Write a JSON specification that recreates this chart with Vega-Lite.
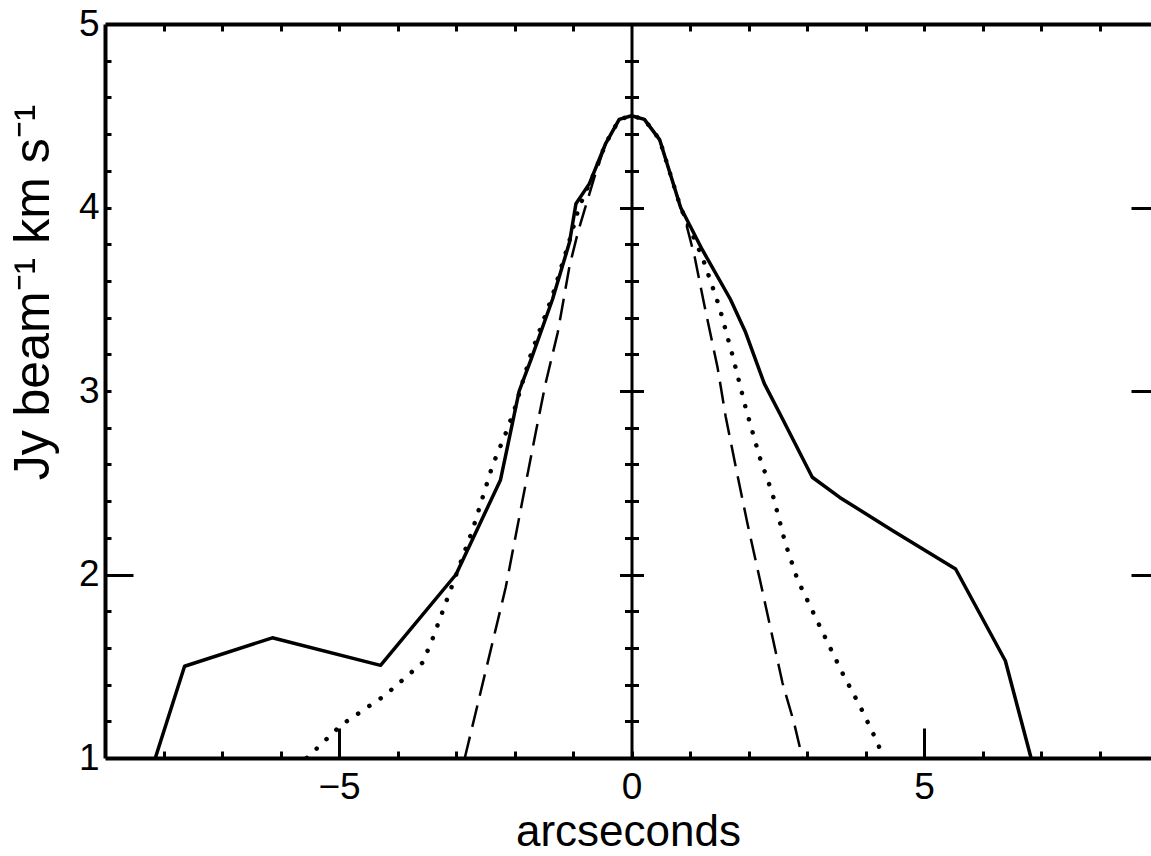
{
  "$schema": "https://vega.github.io/schema/vega-lite/v6.json",
  "width": 1046,
  "height": 734,
  "autosize": {"type": "none"},
  "padding": {"left": 105, "top": 24, "right": 0, "bottom": 98},
  "background": "white",
  "config": {
    "view": {"stroke": null},
    "axis": {
      "grid": false,
      "labelFont": "Liberation Sans",
      "titleFont": "Liberation Sans",
      "labelColor": "black",
      "titleColor": "black",
      "domainColor": "black",
      "tickColor": "black",
      "labelFlush": false,
      "labelOverlap": false
    }
  },
  "data": {
    "values": [
      {"s": "obs", "x": -8.14, "y": 1.0},
      {"s": "obs", "x": -7.64, "y": 1.5},
      {"s": "obs", "x": -6.14, "y": 1.655},
      {"s": "obs", "x": -4.29, "y": 1.505},
      {"s": "obs", "x": -3.0, "y": 2.0},
      {"s": "obs", "x": -2.24, "y": 2.515},
      {"s": "obs", "x": -1.92, "y": 3.0},
      {"s": "obs", "x": -1.72, "y": 3.17},
      {"s": "obs", "x": -1.35, "y": 3.5},
      {"s": "obs", "x": -1.06, "y": 3.81},
      {"s": "obs", "x": -0.95, "y": 4.02},
      {"s": "obs", "x": -0.72, "y": 4.13},
      {"s": "obs", "x": -0.44, "y": 4.35},
      {"s": "obs", "x": -0.21, "y": 4.48},
      {"s": "obs", "x": 0.0, "y": 4.5},
      {"s": "obs", "x": 0.22, "y": 4.48},
      {"s": "obs", "x": 0.48, "y": 4.37},
      {"s": "obs", "x": 0.84, "y": 4.0},
      {"s": "obs", "x": 1.21, "y": 3.77},
      {"s": "obs", "x": 1.69, "y": 3.5},
      {"s": "obs", "x": 1.95, "y": 3.32},
      {"s": "obs", "x": 2.27, "y": 3.04},
      {"s": "obs", "x": 2.53, "y": 2.88},
      {"s": "obs", "x": 3.09, "y": 2.53},
      {"s": "obs", "x": 3.56, "y": 2.42},
      {"s": "obs", "x": 4.46, "y": 2.24},
      {"s": "obs", "x": 5.54, "y": 2.03},
      {"s": "obs", "x": 6.39, "y": 1.53},
      {"s": "obs", "x": 6.83, "y": 1.0},

      {"s": "dash", "x": -2.85, "y": 1.0},
      {"s": "dash", "x": -2.24, "y": 1.81},
      {"s": "dash", "x": -2.15, "y": 1.93},
      {"s": "dash", "x": -1.86, "y": 2.41},
      {"s": "dash", "x": -1.64, "y": 2.77},
      {"s": "dash", "x": -1.47, "y": 3.04},
      {"s": "dash", "x": -1.26, "y": 3.32},
      {"s": "dash", "x": -1.06, "y": 3.68},
      {"s": "dash", "x": -0.92, "y": 3.86},
      {"s": "dash", "x": -0.8, "y": 3.99},
      {"s": "dash", "x": -0.62, "y": 4.18},
      {"s": "dash", "x": -0.44, "y": 4.35},
      {"s": "dash", "x": -0.21, "y": 4.48},
      {"s": "dash", "x": 0.0, "y": 4.5},
      {"s": "dash", "x": 0.22, "y": 4.48},
      {"s": "dash", "x": 0.48, "y": 4.37},
      {"s": "dash", "x": 0.84, "y": 4.0},
      {"s": "dash", "x": 0.92, "y": 3.93},
      {"s": "dash", "x": 1.08, "y": 3.73},
      {"s": "dash", "x": 1.25, "y": 3.46},
      {"s": "dash", "x": 1.47, "y": 3.13},
      {"s": "dash", "x": 1.61, "y": 2.86},
      {"s": "dash", "x": 1.78, "y": 2.59},
      {"s": "dash", "x": 1.98, "y": 2.28},
      {"s": "dash", "x": 2.21, "y": 1.95},
      {"s": "dash", "x": 2.58, "y": 1.41},
      {"s": "dash", "x": 2.78, "y": 1.19},
      {"s": "dash", "x": 2.92, "y": 1.0},

      {"s": "dot", "x": -5.55, "y": 1.0},
      {"s": "dot", "x": -4.96, "y": 1.18},
      {"s": "dot", "x": -4.22, "y": 1.34},
      {"s": "dot", "x": -3.57, "y": 1.52},
      {"s": "dot", "x": -3.4, "y": 1.65},
      {"s": "dot", "x": -3.17, "y": 1.85},
      {"s": "dot", "x": -2.72, "y": 2.24},
      {"s": "dot", "x": -2.38, "y": 2.59},
      {"s": "dot", "x": -2.15, "y": 2.77},
      {"s": "dot", "x": -2.0, "y": 2.9},
      {"s": "dot", "x": -1.72, "y": 3.2},
      {"s": "dot", "x": -1.35, "y": 3.52},
      {"s": "dot", "x": -1.06, "y": 3.82},
      {"s": "dot", "x": -0.9, "y": 4.0},
      {"s": "dot", "x": -0.62, "y": 4.2},
      {"s": "dot", "x": -0.44, "y": 4.35},
      {"s": "dot", "x": -0.21, "y": 4.48},
      {"s": "dot", "x": 0.0, "y": 4.5},
      {"s": "dot", "x": 0.22, "y": 4.48},
      {"s": "dot", "x": 0.48, "y": 4.37},
      {"s": "dot", "x": 0.84, "y": 4.0},
      {"s": "dot", "x": 0.92, "y": 3.94},
      {"s": "dot", "x": 1.21, "y": 3.73},
      {"s": "dot", "x": 1.5, "y": 3.46},
      {"s": "dot", "x": 1.73, "y": 3.19},
      {"s": "dot", "x": 1.95, "y": 2.91},
      {"s": "dot", "x": 2.19, "y": 2.64},
      {"s": "dot", "x": 2.41, "y": 2.44},
      {"s": "dot", "x": 2.63, "y": 2.17},
      {"s": "dot", "x": 2.84, "y": 1.97},
      {"s": "dot", "x": 3.23, "y": 1.71},
      {"s": "dot", "x": 3.61, "y": 1.46},
      {"s": "dot", "x": 3.91, "y": 1.28},
      {"s": "dot", "x": 4.21, "y": 1.08},
      {"s": "dot", "x": 4.3, "y": 1.0}
    ]
  },
  "resolve": {"axis": {"x": "independent", "y": "independent"}},
  "layer": [
    {
      "transform": [{"filter": "datum.s === 'obs'"}],
      "mark": {"type": "line", "stroke": "black", "strokeWidth": 3.5, "strokeJoin": "round", "clip": true},
      "encoding": {
        "x": {
          "field": "x", "type": "quantitative",
          "scale": {"domain": [-9, 8.88], "nice": false, "zero": false},
          "axis": {
            "orient": "bottom", "values": [-5, 0, 5], "ticks": false, "domain": false,
            "labelFontSize": 37, "labelPadding": 11,
            "title": "arcseconds", "titleFontSize": 44, "titleFontWeight": "normal",
            "titleBaseline": "alphabetic", "titleY": 87
          }
        },
        "y": {
          "field": "y", "type": "quantitative",
          "scale": {"domain": [1, 5], "nice": false, "zero": false},
          "axis": {
            "orient": "left", "values": [1, 2, 3, 4, 5], "ticks": false, "domain": false,
            "labelFontSize": 37, "labelPadding": 6,
            "title": "Jy beam⁻¹ km s⁻¹", "titleFontSize": 50, "titleFontWeight": "normal",
            "titleAngle": -90, "titleAlign": "center", "titleBaseline": "alphabetic",
            "titleX": -57, "titleY": 268
          }
        }
      }
    },
    {
      "transform": [{"filter": "datum.s === 'dash'"}],
      "mark": {"type": "line", "stroke": "black", "strokeWidth": 2.5, "strokeDash": [22, 10], "clip": true},
      "encoding": {
        "x": {
          "field": "x", "type": "quantitative",
          "scale": {"domain": [-9, 8.88], "nice": false, "zero": false},
          "axis": {
            "orient": "bottom", "values": [-8, -7, -6, -5, -4, -3, -2, -1, 0, 1, 2, 3, 4, 5, 6, 7, 8],
            "labels": false, "domain": true, "domainWidth": 4, "tickWidth": 3,
            "tickSize": {"condition": {"test": "abs(datum.value) === 5", "value": -30}, "value": -7},
            "title": null
          }
        },
        "y": {
          "field": "y", "type": "quantitative",
          "scale": {"domain": [1, 5], "nice": false, "zero": false},
          "axis": {
            "orient": "left",
            "values": [1.2, 1.4, 1.6, 1.8, 2, 2.2, 2.4, 2.6, 2.8, 3, 3.2, 3.4, 3.6, 3.8, 4, 4.2, 4.4, 4.6, 4.8],
            "labels": false, "domain": true, "domainWidth": 4, "tickWidth": 3,
            "tickSize": {"condition": {"test": "datum.value === 2", "value": -28}, "value": -6},
            "title": null
          }
        }
      }
    },
    {
      "transform": [{"filter": "datum.s === 'dot'"}],
      "mark": {"type": "line", "stroke": "black", "strokeWidth": 4.5, "strokeDash": [0.1, 13.5], "strokeCap": "round", "clip": true},
      "encoding": {
        "x": {
          "field": "x", "type": "quantitative",
          "scale": {"domain": [-9, 8.88], "nice": false, "zero": false},
          "axis": {
            "orient": "top", "values": [-8, -7, -6, -5, -4, -3, -2, -1, 1, 2, 3, 4, 5, 6, 7, 8],
            "labels": false, "domain": true, "domainWidth": 4, "tickWidth": 3, "tickSize": -7,
            "title": null
          }
        },
        "y": {
          "field": "y", "type": "quantitative",
          "scale": {"domain": [1, 5], "nice": false, "zero": false},
          "axis": {
            "orient": "right", "values": [2, 3, 4],
            "labels": false, "domain": false, "tickWidth": 3, "tickSize": -20,
            "title": null
          }
        }
      }
    },
    {
      "transform": [{"filter": "datum.s === 'obs'"}],
      "mark": {"type": "line", "opacity": 0},
      "encoding": {
        "x": {
          "field": "x", "type": "quantitative",
          "scale": {"domain": [-9, 8.88], "nice": false, "zero": false},
          "axis": null
        },
        "y": {
          "field": "y", "type": "quantitative",
          "scale": {"domain": [1, 5], "nice": false, "zero": false},
          "axis": {
            "orient": "left", "offset": -526.5,
            "values": [1.2, 1.4, 1.6, 1.8, 2, 2.2, 2.4, 2.6, 2.8, 3, 3.2, 3.4, 3.6, 3.8, 4, 4.2, 4.4, 4.6, 4.8],
            "labels": false, "domain": true, "domainWidth": 3, "tickWidth": 3,
            "tickSize": {"condition": {"test": "datum.value === 2 || datum.value === 3 || datum.value === 4", "value": 12}, "value": 7},
            "title": null
          }
        }
      }
    },
    {
      "transform": [{"filter": "datum.s === 'obs'"}],
      "mark": {"type": "line", "opacity": 0},
      "encoding": {
        "x": {
          "field": "x", "type": "quantitative",
          "scale": {"domain": [-9, 8.88], "nice": false, "zero": false},
          "axis": null
        },
        "y": {
          "field": "y", "type": "quantitative",
          "scale": {"domain": [1, 5], "nice": false, "zero": false},
          "axis": {
            "orient": "right", "offset": -519.5,
            "values": [1.2, 1.4, 1.6, 1.8, 2, 2.2, 2.4, 2.6, 2.8, 3, 3.2, 3.4, 3.6, 3.8, 4, 4.2, 4.4, 4.6, 4.8],
            "labels": false, "domain": false, "tickWidth": 3,
            "tickSize": {"condition": {"test": "datum.value === 2 || datum.value === 3 || datum.value === 4", "value": 12}, "value": 7},
            "title": null
          }
        }
      }
    }
  ]
}
